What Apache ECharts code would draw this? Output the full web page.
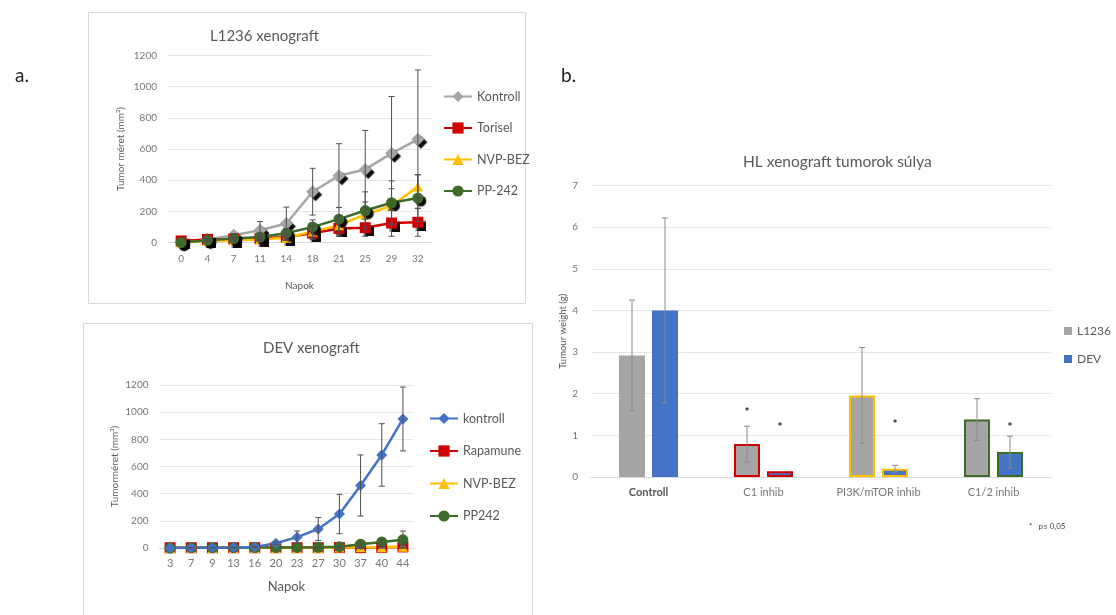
<!DOCTYPE html>
<html><head><meta charset="utf-8">
<script src="https://cdn.jsdelivr.net/npm/echarts@6/dist/echarts.min.js"></script>
<style>html,body{margin:0;padding:0;background:#fff}#c{width:1116px;height:615px}</style>
</head><body><div id="c"></div>
<script>
// ---- Panel a (top): L1236 xenograft ----
const topCats = ['0','4','7','11','14','18','21','25','29','32'];
const topYTicks = [0,200,400,600,800,1000,1200];
const kontrollL = [5,20,47,79,122,326,429,469,572,662];
const kontrollLErr = [0,5,10,55,105,150,205,250,365,445];
const toriselL = [10,20,22,25,35,60,90,95,125,130];
const toriselLErr = [0,5,10,15,20,40,50,55,85,90];
const nvpL = [0,10,15,20,30,70,110,180,235,360];
const nvpLErr = [0,3,5,10,15,35,60,80,110,75];
const ppL = [0,15,25,35,60,100,150,205,255,285];
const ppLErr = [0,5,10,15,30,45,75,120,140,150];

// ---- Panel a (bottom): DEV xenograft ----
const devCats = ['3','7','9','13','16','20','23','27','30','37','40','44'];
const kontrollD = [0,2,2,3,8,35,80,140,250,460,685,950];
const kontrollDErr = [0,1,1,2,5,10,45,85,145,225,230,235];
const rapaD = [2,2,2,2,2,2,2,2,3,3,5,8];
const rapaDErr = [0,0,0,0,0,0,0,0,2,3,5,8];
const nvpD = [0,0,0,0,0,0,0,0,3,5,5,10];
const nvpDErr = [0,0,0,0,0,0,0,0,2,3,5,8];
const ppD = [0,2,2,2,3,3,4,5,10,28,45,60];
const ppDErr = [0,0,0,0,0,0,0,3,5,10,20,65];

// ---- Panel b: HL xenograft tumour weight ----
const barCats = ['Controll','C1 inhib','PI3K/mTOR inhib','C1/2 inhib'];
const barL1236 = [2.92,0.79,1.96,1.38];
const barL1236Err = [1.33,0.43,1.15,0.5];
const barDEV = [4.0,0.14,0.2,0.6];
const barDEVErr = [2.22,0,0.08,0.38];
const starL1236 = [null,1.64,null,null];
const starDEV = [null,1.27,1.34,1.27];
const groupBorders = [null,'#d00000','#ffc000','#3d6b28'];

const FONT = 'Lato';
const TXT = '#595959';

function errSeries(name, x, y, vals, errs, color) {
  return {
    type:'custom', name, xAxisIndex:x, yAxisIndex:y, z:5, silent:true,
    data: vals.map((v,i)=>[i, v, errs[i]]),
    renderItem(params, api){
      const i=api.value(0), v=api.value(1), e=api.value(2);
      if(!e) return null;
      const t=api.coord([i, v+e]), b=api.coord([i, Math.max(0,v-e)]);
      const h=3;
      return {type:'group', children:[
        {type:'line', shape:{x1:t[0],y1:t[1],x2:b[0],y2:b[1]}, style:{stroke:color,lineWidth:1}},
        {type:'line', shape:{x1:t[0]-h,y1:t[1],x2:t[0]+h,y2:t[1]}, style:{stroke:color,lineWidth:1}},
        {type:'line', shape:{x1:b[0]-h,y1:b[1],x2:b[0]+h,y2:b[1]}, style:{stroke:color,lineWidth:1}}
      ]};
    }
  };
}

function barErrSeries(name, vals, errs, stars, offset) {
  return {
    type:'custom', name, xAxisIndex:2, yAxisIndex:2, z:5, silent:true,
    data: vals.map((v,i)=>[i, v, errs[i], stars[i]==null?-1:stars[i]]),
    renderItem(params, api){
      const i=api.value(0), v=api.value(1), e=api.value(2), s=api.value(3);
      const ch=[];
      const c=api.coord([i,v]);
      const x=c[0]+offset;
      if(e){
        const t=api.coord([i,v+e])[1], b=api.coord([i,Math.max(0,v-e)])[1];
        ch.push({type:'line', shape:{x1:x,y1:t,x2:x,y2:b}, style:{stroke:'#8a8a8a',lineWidth:1}});
        ch.push({type:'line', shape:{x1:x-3,y1:t,x2:x+3,y2:t}, style:{stroke:'#8a8a8a',lineWidth:1}});
        ch.push({type:'line', shape:{x1:x-3,y1:b,x2:x+3,y2:b}, style:{stroke:'#8a8a8a',lineWidth:1}});
      }
      if(s>=0){
        const sy=api.coord([i,s])[1];
        ch.push({type:'text', style:{text:'*', x:x, y:sy+3, fill:'#222', fontSize:12, fontWeight:'bold', fontFamily:FONT, align:'center', verticalAlign:'middle'}});
      }
      return {type:'group', children:ch};
    }
  };
}

const shadow = {shadowColor:'rgba(0,0,0,0.95)', shadowBlur:1, shadowOffsetX:3, shadowOffsetY:3};

function lineSeries(name, x, data, color, symbol, size, withShadow) {
  return {
    type:'line', name, xAxisIndex:x, yAxisIndex:x, data, color,
    symbol, symbolSize:size, showAllSymbol:true, z:3,
    lineStyle:{color, width:2.5},
    itemStyle: Object.assign({color}, withShadow?shadow:{})
  };
}

const plain = v => String(v);
const catAxisBase = {
  type:'category', axisTick:{show:false},
  axisLine:{lineStyle:{color:'#d9d9d9'}},
  nameLocation:'middle'
};
const valAxisBase = {
  type:'value', axisLine:{show:false}, axisTick:{show:false},
  splitLine:{lineStyle:{color:'#e6e6e6'}}, nameLocation:'middle', nameRotate:90
};

const chart = echarts.init(document.getElementById('c'), null, {renderer:'canvas'});
chart.setOption({
  animation:false,
  textStyle:{fontFamily:FONT},
  title:[
    {text:'L1236 xenograft', left:205, top:24, textStyle:{fontSize:15, fontWeight:'normal', color:TXT, fontFamily:FONT}},
    {text:'DEV xenograft', left:258, top:336, textStyle:{fontSize:15, fontWeight:'normal', color:TXT, fontFamily:FONT}},
    {text:'HL xenograft tumorok súlya', left:738, top:149, textStyle:{fontSize:15.5, fontWeight:'normal', color:TXT, fontFamily:FONT}}
  ],
  grid:[
    {left:168, top:55.5, width:263, height:187},
    {left:159.5, top:385, width:254, height:163},
    {left:591, top:185.5, width:460, height:291.5}
  ],
  legend:[
    {data:['Kontroll','Torisel','NVP-BEZ','PP-242'], orient:'vertical', left:438, top:85,
     itemWidth:28, itemHeight:14, itemGap:18.5, textStyle:{fontSize:12.5, color:TXT, fontFamily:FONT}},
    {data:['kontroll','Rapamune','NVP-BEZ','PP242'], orient:'vertical', left:424, top:407,
     itemWidth:28, itemHeight:14, itemGap:19.5, textStyle:{fontSize:12.5, color:TXT, fontFamily:FONT}},
    {data:['L1236','DEV'], orient:'vertical', left:1059, top:320, icon:'rect',
     itemWidth:8, itemHeight:8, itemGap:16, textStyle:{fontSize:12, color:TXT, fontFamily:FONT}}
  ],
  xAxis:[
    Object.assign({}, catAxisBase, {gridIndex:0, data:topCats, name:'Napok', nameGap:38,
      nameTextStyle:{fontSize:10, color:TXT}, axisLabel:{fontSize:10, color:'#777', margin:11}}),
    Object.assign({}, catAxisBase, {gridIndex:1, data:devCats, name:'Napok', nameGap:32,
      nameTextStyle:{fontSize:13, color:TXT}, axisLabel:{fontSize:11, color:'#777', margin:10}}),
    Object.assign({}, catAxisBase, {gridIndex:2, data:barCats,
      axisLabel:{fontSize:11, color:'#777', margin:10,
        formatter:(v,i)=> i===0 ? '{d|'+v+'}' : v, rich:{d:{fontSize:11, color:'#555', fontWeight:'bold'}}}})
  ],
  yAxis:[
    Object.assign({}, valAxisBase, {gridIndex:0, min:topYTicks[0], max:topYTicks[topYTicks.length-1], interval:200,
      name:'Tumor méret (mm³)', nameGap:42, nameTextStyle:{fontSize:10, color:TXT},
      axisLabel:{fontSize:10, color:'#777', margin:11, formatter:plain}}),
    Object.assign({}, valAxisBase, {gridIndex:1, min:0, max:1200, interval:200,
      name:'Tumorméret (mm³)', nameGap:40, nameTextStyle:{fontSize:10, color:TXT},
      axisLabel:{fontSize:10, color:'#777', margin:11, formatter:plain}}),
    Object.assign({}, valAxisBase, {gridIndex:2, min:0, max:7, interval:1,
      name:'Tumour weight (g)', nameGap:21, nameTextStyle:{fontSize:9.5, color:TXT},
      axisLabel:{fontSize:10, color:'#777', margin:13}})
  ],
  series:[
    lineSeries('Kontroll',0,kontrollL,'#a5a5a5','diamond',13,true),
    lineSeries('Torisel',0,toriselL,'#d00000','rect',11,true),
    lineSeries('NVP-BEZ',0,nvpL,'#ffc000','triangle',10,false),
    lineSeries('PP-242',0,ppL,'#3d6b28','circle',11,true),
    errSeries('eK',0,0,kontrollL,kontrollLErr,'#505050'),
    errSeries('eT',0,0,toriselL,toriselLErr,'#505050'),
    errSeries('eN',0,0,nvpL,nvpLErr,'#505050'),
    errSeries('eP',0,0,ppL,ppLErr,'#505050'),

    lineSeries('Rapamune',1,rapaD,'#d00000','rect',11,false),
    lineSeries('NVP-BEZ',1,nvpD,'#ffc000','triangle',10,false),
    lineSeries('PP242',1,ppD,'#3d6b28','circle',11,false),
    lineSeries('kontroll',1,kontrollD,'#4472c4','diamond',11,false),
    errSeries('eKD',1,1,kontrollD,kontrollDErr,'#505050'),
    errSeries('eRD',1,1,rapaD,rapaDErr,'#505050'),
    errSeries('eND',1,1,nvpD,nvpDErr,'#505050'),
    errSeries('ePD',1,1,ppD,ppDErr,'#505050'),

    {type:'bar', name:'L1236', xAxisIndex:2, yAxisIndex:2, barWidth:26, barGap:'27%', color:'#a5a5a5',
     data: barL1236.map((v,i)=> groupBorders[i] ? {value:v, itemStyle:{borderColor:groupBorders[i], borderWidth:2}} : v)},
    {type:'bar', name:'DEV', xAxisIndex:2, yAxisIndex:2, barWidth:26, barGap:'27%', color:'#4472c4',
     data: barDEV.map((v,i)=> groupBorders[i] ? {value:v, itemStyle:{borderColor:groupBorders[i], borderWidth:2}} : v)},
    barErrSeries('eBL', barL1236, barL1236Err, starL1236, -16.5),
    barErrSeries('eBD', barDEV, barDEVErr, starDEV, 16.5)
  ],
  graphic:[
    {type:'rect', shape:{x:88.5,y:12.5,width:437,height:291}, style:{fill:'none', stroke:'#d9d9d9', lineWidth:1}, z:-1},
    {type:'rect', shape:{x:83.5,y:323.5,width:449,height:300}, style:{fill:'none', stroke:'#d9d9d9', lineWidth:1}, z:-1},
    {type:'text', left:15, top:66, style:{text:'a.', fontSize:19, fill:'#222', fontFamily:FONT}},
    {type:'text', left:561, top:66, style:{text:'b.', fontSize:19, fill:'#222', fontFamily:FONT}},
    {type:'text', left:1029, top:522, style:{text:'*   p≤ 0,05', fontSize:8, fill:'#444', fontFamily:FONT}}
  ]
});
</script></body></html>
